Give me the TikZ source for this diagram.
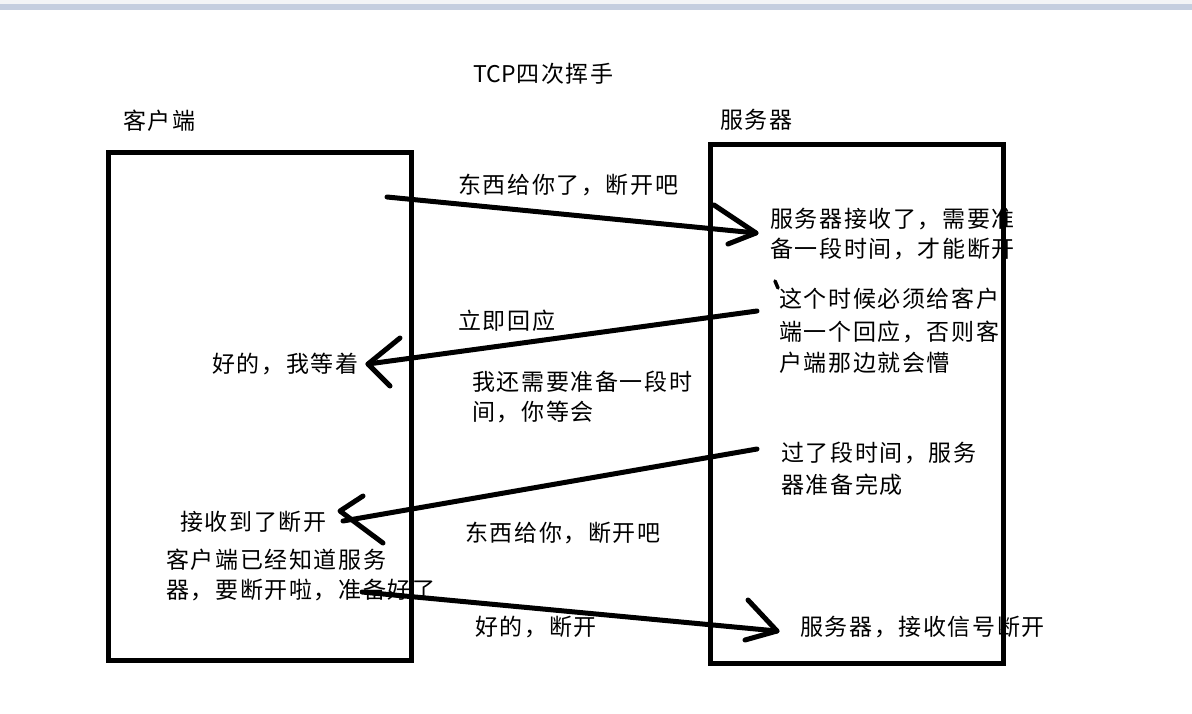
\documentclass[tikz,border=0pt]{standalone}
\usepackage{fontspec}
\setmainfont{Noto Sans CJK SC}
\newfontfamily\lblfont[LetterSpace=7]{Noto Sans CJK SC}
\definecolor{barblue}{HTML}{C5CEDF}
\definecolor{bargray}{HTML}{F3F4F6}
\begin{document}
\begin{tikzpicture}[x=1pt,y=-1pt,
  lbl/.style={anchor=west,inner sep=0pt,font=\lblfont\fontsize{23}{28}\selectfont,text height=20pt,text depth=2pt},
  box/.style={draw=black,line width=5pt},
  stroke/.style={draw=black,line width=5pt,line cap=round,line join=round}]
\useasboundingbox (0,0) rectangle (1192,713);
\fill[white] (0,0) rectangle (1192,713);
\fill[bargray] (0,0) rectangle (1192,4);
\fill[barblue] (0,4) rectangle (1192,10);

% texts
\node[lbl] (title) at (473,73) {{\rmfamily TCP\kern1pt}四次挥手};
\node[lbl] (client) at (123,120) {客户端};
\node[lbl] (server) at (720,119) {服务器};
\node[lbl] (m1) at (458,184) {东西给你了，断开吧};
\node[lbl] (s1a) at (770,218) {服务器接收了，需要准};
\node[lbl] (s1b) at (770,248) {备一段时间，才能断开};
\node[lbl] (s2a) at (779,298) {这个时候必须给客户};
\node[lbl] (s2b) at (779,331) {端一个回应，否则客};
\node[lbl] (s2c) at (779,362) {户端那边就会懵};
\node[lbl] (m2) at (458,320) {立即回应};
\node[lbl] (c1) at (212,363) {好的，我等着};
\node[lbl] (m3a) at (472,381) {我还需要准备一段时};
\node[lbl] (m3b) at (472,411) {间，你等会};
\node[lbl] (s3a) at (781,452) {过了段时间，服务};
\node[lbl] (s3b) at (781,484) {器准备完成};
\node[lbl] (c2) at (180,521) {接收到了断开};
\node[lbl] (m4) at (465,532) {东西给你，断开吧};
\node[lbl] (c3a) at (166,559) {客户端已经知道服务};
\node[lbl] (c3b) at (166,589) {器，要断开啦，准备好了};
\node[lbl] (m5) at (475,626) {好的，断开};
\node[lbl] (s4) at (800,626) {服务器，接收信号断开};

% boxes
\draw[box] (108,152) rectangle (411,660);
\draw[box] (710,144) rectangle (1003,663);

% arrow 1
\coordinate (a1s) at (387,197);
\coordinate (a1e) at (756,233);
\coordinate (h1u) at (714,205);
\coordinate (h1l) at (728,244);
\draw[stroke] (a1s) -- (a1e);
\draw[stroke] (h1u) -- (a1e) -- (h1l);

% arrow 2
\coordinate (a2s) at (757,311);
\coordinate (a2e) at (368,364);
\coordinate (h2u) at (400,338);
\coordinate (h2l) at (390,386);
\draw[stroke] (a2s) -- (a2e);
\draw[stroke] (h2u) -- (a2e) -- (h2l);

% small mark
\coordinate (k1) at (775,281);
\coordinate (k2) at (778,288);
\draw[stroke,line width=3.5pt] (k1) -- (k2);

% arrow 3
\coordinate (a3s) at (757,449);
\coordinate (a3e) at (343,521);
\coordinate (h3t) at (340,511);
\coordinate (h3u) at (363,496);
\coordinate (h3l) at (383,543);
\draw[stroke] (a3s) -- (a3e);
\draw[stroke] (h3u) -- (h3t) -- (h3l);

% arrow 4
\coordinate (a4s) at (362,592);
\coordinate (a4e) at (777,631);
\coordinate (h4u) at (748,600);
\coordinate (h4l) at (745,640);
\draw[stroke] (a4s) -- (a4e);
\draw[stroke] (h4u) -- (a4e) -- (h4l);
\end{tikzpicture}
\end{document}
